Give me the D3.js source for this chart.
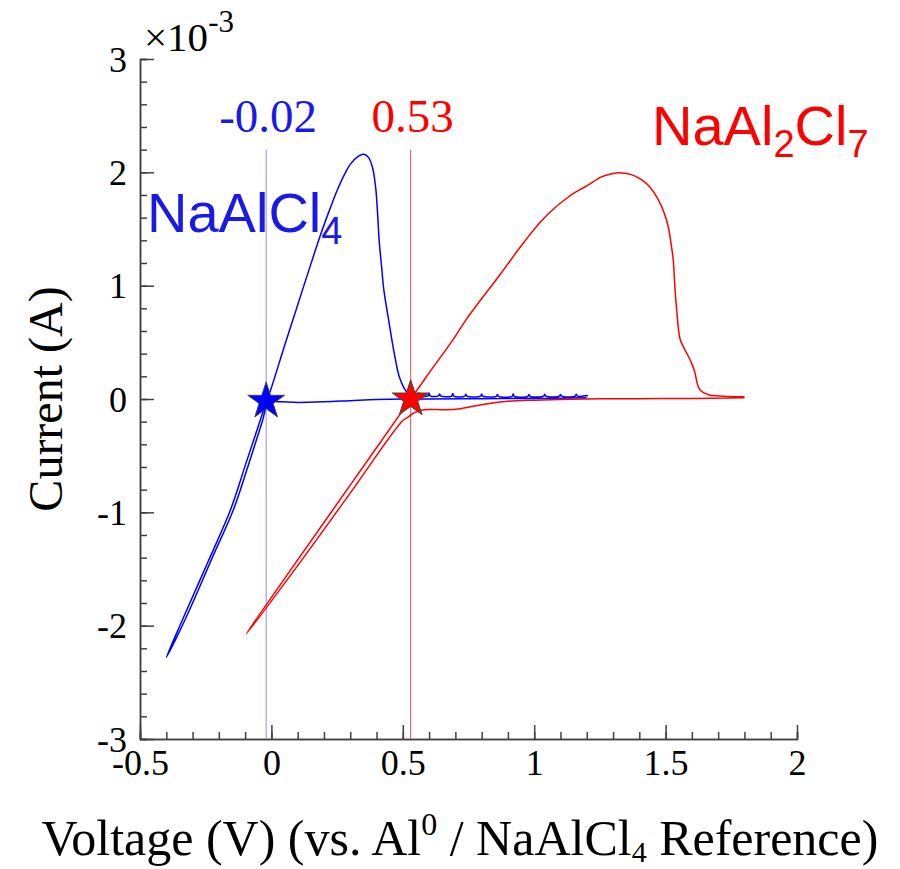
<!DOCTYPE html>
<meta charset="utf-8">
<style>
    body { margin: 0; background: #fff; }
    .tick text { font-family: "Liberation Serif", "Times New Roman", serif; font-size: 36px; fill: #000; }
    .axis path, .axis line { stroke: #404040; stroke-width: 1.5; }
</style>
<svg width="900" height="869"></svg>
<script src="https://d3js.org/d3.v7.min.js"></script>
<script>
    // NaAlCl4 cyclic voltammogram (voltage in V, current in mA)
    var blueV = [1.20, 1.00, 0.80, 0.60, 0.50, 0.40, 0.30, 0.20, 0.10, 0.03, -0.01,
        -0.035, -0.09, -0.145, -0.225, -0.325, -0.40,
        -0.335, -0.24, -0.156, -0.10, -0.05, -0.02, 0.00, 0.05, 0.10, 0.15, 0.19, 0.22, 0.25, 0.28, 0.30, 0.33, 0.352,
        0.37, 0.385, 0.397, 0.405, 0.41, 0.42, 0.428, 0.448, 0.467, 0.486, 0.505, 0.52, 0.545,
        0.556, 0.56, 0.564, 0.596, 0.60, 0.604, 0.636, 0.64, 0.644, 0.686, 0.69, 0.694, 0.736, 0.74, 0.744,
        0.796, 0.80, 0.804, 0.856, 0.86, 0.864, 0.916, 0.92, 0.924, 0.976, 0.98, 0.984,
        1.036, 1.04, 1.044, 1.096, 1.10, 1.104, 1.156, 1.16, 1.164, 1.205];
    var blueI = [0.01, 0.005, 0.003, 0.0, 0.0, -0.005, -0.015, -0.025, -0.03, -0.025, -0.03,
        -0.20, -0.60, -0.98, -1.40, -1.93, -2.28,
        -1.93, -1.43, -0.98, -0.59, -0.24, -0.03, 0.10, 0.47, 0.83, 1.19, 1.47, 1.66, 1.84, 1.99, 2.07, 2.14, 2.16,
        2.13, 2.04, 1.86, 1.60, 1.40, 1.15, 0.96, 0.67, 0.41, 0.20, 0.096, 0.05, 0.035,
        0.03, 0.055, 0.03, 0.028, 0.05, 0.028, 0.027, 0.045, 0.027, 0.026, 0.048, 0.026, 0.025, 0.042, 0.025,
        0.025, 0.045, 0.025, 0.024, 0.04, 0.024, 0.024, 0.044, 0.024, 0.024, 0.04, 0.024,
        0.025, 0.042, 0.025, 0.025, 0.04, 0.025, 0.026, 0.042, 0.026, 0.03];

    // NaAl2Cl7 cyclic voltammogram
    var redV = [1.80, 1.60, 1.40, 1.20, 1.00, 0.90, 0.80, 0.72, 0.66, 0.60, 0.57, 0.545, 0.52, 0.50, 0.30, 0.10, -0.095,
        0.10, 0.30, 0.50, 0.53, 0.60, 0.69, 0.747, 0.874, 0.95, 1.027, 1.08, 1.129, 1.154, 1.20, 1.256, 1.30, 1.332,
        1.37, 1.408, 1.44, 1.472, 1.495, 1.51, 1.522, 1.529, 1.535, 1.542, 1.555, 1.57, 1.587, 1.60, 1.612, 1.62, 1.631,
        1.663, 1.72, 1.80];
    var redI = [0.01, 0.005, 0.003, 0.0, -0.01, -0.02, -0.05, -0.085, -0.095, -0.092, -0.10, -0.12, -0.16, -0.19, -0.83, -1.47, -2.07,
        -1.42, -0.76, -0.10, 0.0, 0.23, 0.52, 0.72, 1.11, 1.35, 1.57, 1.69, 1.78, 1.82, 1.88, 1.96, 1.99, 1.995,
        1.98, 1.935, 1.87, 1.76, 1.64, 1.52, 1.35, 1.23, 1.00, 0.79, 0.53, 0.45, 0.375, 0.31, 0.23, 0.14, 0.08,
        0.037, 0.025, 0.02];

    var markerV = [-0.02, 0.53];
    var markerI = [-0.02, 0.0];
    var markerLabels = ["-0.02", "0.53"];
    var colors = ["#0000ff", "#ff0000"];
    var guideColors = ["#8c8cff", "#c85a5a"];
    var labelColors = ["#1a1ae6", "#ff0000"];

    var xTicks = [-0.5, 0, 0.5, 1, 1.5, 2];
    var yTicks = [-3, -2, -1, 0, 1, 2, 3];

    var svg = d3.select("svg"),
        margin = {left: 140, right: 103, top: 59, bottom: 130},
        width = +svg.attr("width") - margin.left - margin.right,
        height = +svg.attr("height") - margin.top - margin.bottom;

    var x = d3.scaleLinear().domain([-0.5, 2]).range([margin.left, margin.left + width]);
    var y = d3.scaleLinear().domain([-3, 3]).range([margin.top + height, margin.top]);

    // minor ticks
    svg.append("g").attr("class", "axis")
        .attr("transform", "translate(0," + (margin.top + height) + ")")
        .call(d3.axisBottom(x).tickValues(d3.range(-5, 21).map(function(d) { return d / 10; }))
            .tickSize(-7).tickFormat(""));
    svg.append("g").attr("class", "axis")
        .attr("transform", "translate(" + margin.left + ",0)")
        .call(d3.axisLeft(y).tickValues(d3.range(-15, 16).map(function(d) { return d / 5; }))
            .tickSize(-7).tickFormat(""));

    // major ticks
    svg.append("g").attr("class", "axis")
        .attr("transform", "translate(0," + (margin.top + height) + ")")
        .call(d3.axisBottom(x).tickValues(xTicks).tickSizeInner(-14).tickSizeOuter(0).tickPadding(10)
            .tickFormat(function(d) { return String(d); }));
    svg.append("g").attr("class", "axis")
        .attr("transform", "translate(" + margin.left + ",0)")
        .call(d3.axisLeft(y).tickValues(yTicks).tickSizeInner(-14).tickSizeOuter(0).tickPadding(13)
            .tickFormat(function(d) { return String(d); }))
        .selectAll(".tick text").attr("dy", "0.34em");

    // guide lines
    markerV.forEach(function(v, k) {
        svg.append("line")
            .attr("x1", x(v)).attr("x2", x(v))
            .attr("y1", y(2.2)).attr("y2", y(-3))
            .attr("stroke", guideColors[k]).attr("stroke-width", 1);
    });

    var line = d3.line()
        .x(function(d) { return x(d[0]); })
        .y(function(d) { return y(d[1]); })
        .curve(d3.curveCatmullRom.alpha(0.5));

    var series = [d3.zip(blueV, blueI), d3.zip(redV, redI)];
    series.forEach(function(s, k) {
        svg.append("path")
            .datum(s)
            .attr("d", line)
            .attr("fill", "none")
            .attr("stroke", colors[k])
            .attr("stroke-width", 1.5);
    });

    // stars
    markerV.forEach(function(v, k) {
        svg.append("path")
            .attr("d", d3.symbol().type(d3.symbolStar).size(420)())
            .attr("transform", "translate(" + x(v) + "," + y(markerI[k]) + ")")
            .attr("fill", colors[k])
            .attr("stroke", "#444")
            .attr("stroke-width", 1);
    });

    // marker value labels
    markerV.forEach(function(v, k) {
        svg.append("text")
            .attr("x", x(v) + 2).attr("y", 132)
            .attr("text-anchor", "middle")
            .attr("fill", labelColors[k])
            .style("font-family", "'Liberation Serif', serif")
            .style("font-size", "47px")
            .text(markerLabels[k]);
    });

    // compound labels
    var sans = "'Liberation Sans', Arial, sans-serif";
    var t1 = svg.append("text").attr("x", 147).attr("y", 232)
        .attr("fill", labelColors[0]).style("font-family", sans).style("font-size", "56px");
    t1.append("tspan").text("NaAlCl");
    t1.append("tspan").attr("dy", 12).style("font-size", "38px").text("4");

    var t2 = svg.append("text").attr("x", 652).attr("y", 145)
        .attr("fill", labelColors[1]).style("font-family", sans).style("font-size", "56px");
    t2.append("tspan").text("NaAl");
    t2.append("tspan").attr("dy", 12).style("font-size", "38px").text("2");
    t2.append("tspan").attr("dy", -12).text("Cl");
    t2.append("tspan").attr("dy", 12).style("font-size", "38px").text("7");

    // exponent
    var serif = "'Liberation Serif', 'Times New Roman', serif";
    var ex = svg.append("text").attr("x", 144).attr("y", 51)
        .style("font-family", serif).style("font-size", "41px").attr("fill", "#000");
    ex.append("tspan").text("\u00d710");
    ex.append("tspan").attr("dy", -19).style("font-size", "31px").text("-3");

    // axis titles
    var xt = svg.append("text").attr("x", 460).attr("y", 855)
        .attr("text-anchor", "middle")
        .style("font-family", serif).style("font-size", "50px").attr("fill", "#000");
    xt.append("tspan").text("Voltage (V) (vs. Al");
    xt.append("tspan").attr("dy", -20).style("font-size", "32px").text("0");
    xt.append("tspan").attr("dy", 20).text(" / NaAlCl");
    xt.append("tspan").attr("dy", 7).style("font-size", "30px").text("4");
    xt.append("tspan").attr("dy", -7).text(" Reference)");

    svg.append("text")
        .attr("transform", "translate(62," + (margin.top + height / 2) + ") rotate(-90)")
        .attr("text-anchor", "middle")
        .style("font-family", serif).style("font-size", "48px").attr("fill", "#000")
        .text("Current (A)");
</script>
